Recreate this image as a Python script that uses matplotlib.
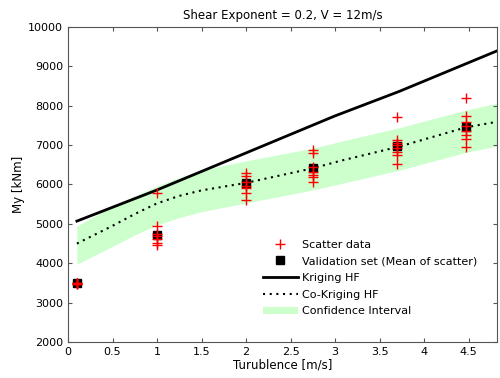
import numpy as np
import matplotlib.pyplot as plt

# scatter data (turbulence [m/s], My [kNm])
scatter_x = [0.1] * 5 + [1] * 7 + [2] * 7 + [2.75] * 7 + [3.7] * 8 + [4.47] * 8
scatter_y = [3470, 3480, 3490, 3500, 3510,
             5790, 4944, 4750, 4690, 4607, 4520, 4462,
             6282, 6213, 6069, 5959, 5900, 5790, 5604,
             6873, 6805, 6450, 6322, 6250, 6200, 6060,
             7703, 7127, 7058, 7000, 6916, 6830, 6746, 6518,
             8185, 7736, 7591, 7482, 7363, 7254, 7145, 6957]

# validation set (mean of scatter)
val_x = [0.1, 1, 2, 2.75, 3.7, 4.47]
val_y = [3490, 4716, 6028, 6409, 6975, 7449]

# Kriging HF
krig_x = [0.1, 1, 2, 3, 3.72, 4.82]
krig_y = [5070, 5860, 6800, 7740, 8360, 9390]

# Co-Kriging HF with confidence interval
cok_x = [0.1, 0.5, 0.75, 1, 1.25, 1.5, 2, 2.75, 3.06, 3.72, 4.47, 4.82]
cok_y = [4500, 4950, 5250, 5520, 5710, 5850, 6040, 6410, 6600, 6960, 7449, 7590]
ci_low = [3975, 4430, 4720, 4970, 5160, 5310, 5530, 5860, 6020, 6360, 6815, 6975]
ci_high = [4945, 5450, 5710, 5960, 6175, 6360, 6600, 6920, 7090, 7440, 7888, 8060]

fig = plt.figure(figsize=(5, 3.78), dpi=100)
ax = fig.add_axes([0.136, 0.095, 0.858, 0.834])

ax.fill_between(cok_x, ci_low, ci_high, color='#ccffcc', linewidth=0, label='Confidence Interval')
ax.plot(krig_x, krig_y, color='black', linewidth=2, label='Kriging HF')
ax.plot(cok_x, cok_y, color='black', linewidth=1.5, linestyle=(0, (1, 2.2)), label='Co-Kriging HF')
ax.plot(val_x, val_y, 's', color='black', markersize=6, label='Validation set (Mean of scatter)')
ax.plot(scatter_x, scatter_y, '+', color='red', markersize=7, markeredgewidth=1, label='Scatter data')

ax.set_xlim(0, 4.82)
ax.set_ylim(2000, 10000)
ax.set_xticks(np.arange(0, 5, 0.5))
ax.set_xticklabels(['0', '0.5', '1', '1.5', '2', '2.5', '3', '3.5', '4', '4.5'])
ax.set_yticks(np.arange(2000, 10001, 1000))
ax.tick_params(direction='in', top=True, right=True, labelsize=8, length=3, color='#555555')
for s in ax.spines.values():
    s.set_color('#555555')

ax.set_title('Shear Exponent = 0.2, V = 12m/s', fontsize=8.5)
ax.set_xlabel('Turublence [m/s]', fontsize=8.5, labelpad=1)
ax.set_ylabel('My [kNm]', fontsize=8.5, labelpad=2)

handles, labels = ax.get_legend_handles_labels()
order = [4, 3, 1, 2, 0]
ax.legend([handles[i] for i in order], [labels[i] for i in order], loc='upper left',
          bbox_to_anchor=(0.455, 0.325), borderaxespad=0, borderpad=0, frameon=False,
          fontsize=8, handlelength=3.1, handletextpad=0.35, labelspacing=0.6)

fig.savefig('out.png')
